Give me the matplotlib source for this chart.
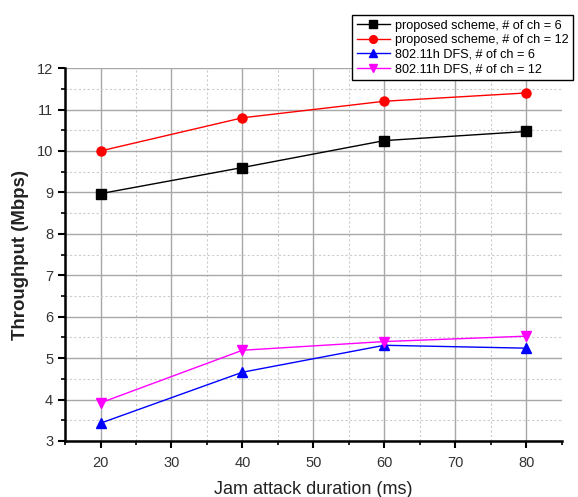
import numpy as np
import matplotlib.pyplot as plt
from matplotlib.ticker import MultipleLocator

plt.rcParams['font.family'] = ['Liberation Sans', 'DejaVu Sans']

duration = [20, 40, 60, 80]
prop_6 = [8.97, 9.60, 10.25, 10.47]
prop_12 = [10.00, 10.80, 11.20, 11.40]
dfs_6 = [3.43, 4.66, 5.31, 5.24]
dfs_12 = [3.92, 5.19, 5.40, 5.53]

labels = [
    "proposed scheme, # of ch = 6",
    "proposed scheme, # of ch = 12",
    "802.11h DFS, # of ch = 6",
    "802.11h DFS, # of ch = 12",
]

fig = plt.figure(figsize=(5.78, 4.97), dpi=100)
ax = fig.add_axes([0.1125, 0.1127, 0.8595, 0.7503])

ax.plot(duration, prop_6, color="black", marker="s", markersize=6.5, lw=1, label=labels[0])
ax.plot(duration, prop_12, color="red", marker="o", markersize=6.5, lw=1, label=labels[1])
ax.plot(duration, dfs_6, color="blue", marker="^", markersize=7.5, lw=1, label=labels[2])
ax.plot(duration, dfs_12, color="magenta", marker="v", markersize=7.5, lw=1, label=labels[3])

ax.set_xlim(15, 85)
ax.set_ylim(3, 12)
ax.xaxis.set_major_locator(MultipleLocator(10))
ax.xaxis.set_minor_locator(MultipleLocator(5))
ax.yaxis.set_major_locator(MultipleLocator(1))
ax.yaxis.set_minor_locator(MultipleLocator(0.5))

ax.grid(which="major", color="#a8a8a8", lw=1, ls="-")
ax.grid(which="minor", color="#cccccc", lw=0.8, ls=(0, (2, 2)))
ax.set_axisbelow(True)

for s in ["top", "right"]:
    ax.spines[s].set_visible(False)
for s in ["left", "bottom"]:
    ax.spines[s].set_linewidth(1.8)

ax.tick_params(which="major", direction="out", length=5, width=1.5, labelsize=10.5, labelcolor="#333333")
ax.tick_params(which="minor", direction="out", length=3, width=1.2)
ax.tick_params(axis="x", pad=6)

ax.set_xlabel("Jam attack duration (ms)", fontsize=13, color="#222222", labelpad=8)
ax.set_ylabel("Throughput (Mbps)", fontsize=13.4, fontweight="bold", color="#222222", labelpad=6)

leg = fig.legend(loc="upper right", bbox_to_anchor=(1.002, 0.982), fontsize=9.1,
                 frameon=True, fancybox=False, edgecolor="black", framealpha=1,
                 handlelength=2.6, handletextpad=0.4, borderpad=0.35,
                 labelspacing=0.2, markerscale=0.85)
leg.get_frame().set_linewidth(1.0)

plt.savefig("out.png", dpi=100)
